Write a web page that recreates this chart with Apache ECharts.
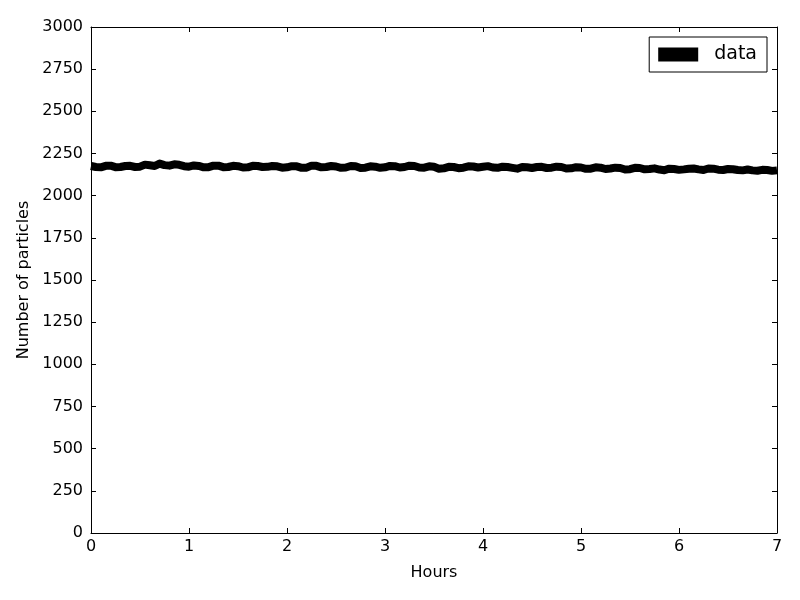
<!DOCTYPE html>
<html>
<head>
<meta charset="utf-8">
<script src="https://cdn.jsdelivr.net/npm/echarts@6/dist/echarts.min.js"></script>
<style>
  html, body { margin: 0; padding: 0; background: #fff; }
  #chart { width: 800px; height: 600px; }
</style>
</head>
<body>
<div id="chart"></div>
<script>
// time in hours
var hours = [
  0.00, 0.05, 0.10, 0.15, 0.20, 0.25, 0.30, 0.35, 0.40, 0.45,
  0.50, 0.55, 0.60, 0.65, 0.70, 0.75, 0.80, 0.85, 0.90, 0.95,
  1.00, 1.05, 1.10, 1.15, 1.20, 1.25, 1.30, 1.35, 1.40, 1.45,
  1.50, 1.55, 1.60, 1.65, 1.70, 1.75, 1.80, 1.85, 1.90, 1.95,
  2.00, 2.05, 2.10, 2.15, 2.20, 2.25, 2.30, 2.35, 2.40, 2.45,
  2.50, 2.55, 2.60, 2.65, 2.70, 2.75, 2.80, 2.85, 2.90, 2.95,
  3.00, 3.05, 3.10, 3.15, 3.20, 3.25, 3.30, 3.35, 3.40, 3.45,
  3.50, 3.55, 3.60, 3.65, 3.70, 3.75, 3.80, 3.85, 3.90, 3.95,
  4.00, 4.05, 4.10, 4.15, 4.20, 4.25, 4.30, 4.35, 4.40, 4.45,
  4.50, 4.55, 4.60, 4.65, 4.70, 4.75, 4.80, 4.85, 4.90, 4.95,
  5.00, 5.05, 5.10, 5.15, 5.20, 5.25, 5.30, 5.35, 5.40, 5.45,
  5.50, 5.55, 5.60, 5.65, 5.70, 5.75, 5.80, 5.85, 5.90, 5.95,
  6.00, 6.05, 6.10, 6.15, 6.20, 6.25, 6.30, 6.35, 6.40, 6.45,
  6.50, 6.55, 6.60, 6.65, 6.70, 6.75, 6.80, 6.85, 6.90, 6.95,
  7.00
];
// number of particles
var particles = [
  2176, 2170, 2168, 2177, 2178, 2169, 2170, 2176, 2177, 2170,
  2172, 2184, 2180, 2176, 2190, 2181, 2178, 2186, 2183, 2175,
  2172, 2179, 2176, 2168, 2169, 2178, 2178, 2169, 2170, 2177,
  2175, 2167, 2168, 2177, 2176, 2170, 2171, 2176, 2174, 2166,
  2168, 2175, 2174, 2165, 2166, 2178, 2177, 2168, 2170, 2176,
  2173, 2165, 2167, 2176, 2174, 2164, 2166, 2174, 2172, 2165,
  2168, 2176, 2175, 2167, 2170, 2178, 2176, 2167, 2166, 2174,
  2171, 2160, 2162, 2171, 2170, 2163, 2166, 2174, 2173, 2167,
  2171, 2175, 2167, 2165, 2172, 2170, 2165, 2160, 2170, 2168,
  2164, 2170, 2171, 2164, 2166, 2172, 2170, 2161, 2162, 2169,
  2167, 2159, 2160, 2168, 2166, 2158, 2161, 2166, 2164, 2155,
  2157, 2165, 2164, 2156, 2158, 2162, 2155, 2151, 2160, 2158,
  2153, 2156, 2160, 2161, 2156, 2152, 2161, 2160, 2154, 2152,
  2158, 2157, 2152, 2150, 2155, 2150, 2148, 2153, 2152, 2147,
  2150
];
var seriesName = 'data';

var font = 'DejaVu Sans';
var myChart = echarts.init(document.getElementById('chart'));

function frameAxis(extra) {
    return Object.assign({
        axisLine: { show: true, onZero: false, lineStyle: { color: '#000', width: 1 } },
        axisTick: { show: true, inside: true, length: 5, lineStyle: { color: '#000' } },
        splitLine: { show: false }
    }, extra);
}

myChart.setOption({
    backgroundColor: '#ffffff',
    animation: false,
    textStyle: { fontFamily: font },
    grid: { left: 91, right: 23, top: 27, bottom: 67 },
    legend: {
        right: 33,
        top: 37,
        orient: 'vertical',
        borderColor: '#000',
        borderWidth: 1,
        borderRadius: 0,
        padding: [8, 10, 8, 9],
        icon: 'rect',
        itemWidth: 40,
        itemHeight: 14,
        selectedMode: false,
        textStyle: { fontSize: 19, lineHeight: 16, color: '#000', fontFamily: font, padding: [0, 0, 0, 11] },
        data: [{ name: seriesName, itemStyle: { color: '#000' } }]
    },
    xAxis: [
        frameAxis({
            type: 'value', min: 0, max: 7, interval: 1, position: 'bottom',
            name: 'Hours', nameLocation: 'middle', nameGap: 32,
            nameTextStyle: { fontSize: 16, color: '#000', fontFamily: font },
            axisLabel: { fontSize: 16, color: '#000', margin: 6, fontFamily: font }
        }),
        frameAxis({
            type: 'value', min: 0, max: 7, interval: 1, position: 'top',
            axisLabel: { show: false }
        })
    ],
    yAxis: [
        frameAxis({
            type: 'value', min: 0, max: 3000, interval: 250, position: 'left',
            name: 'Number of particles', nameLocation: 'middle', nameGap: 52,
            nameTextStyle: { fontSize: 16, color: '#000', fontFamily: font },
            axisLabel: {
                fontSize: 16, color: '#000', margin: 8, fontFamily: font,
                formatter: function (v) { return String(v); }
            }
        }),
        frameAxis({
            type: 'value', min: 0, max: 3000, interval: 250, position: 'right',
            axisLabel: { show: false }
        })
    ],
    series: [{
        name: seriesName,
        type: 'line',
        xAxisIndex: 0,
        yAxisIndex: 0,
        showSymbol: false,
        symbol: 'none',
        lineStyle: { color: '#000', width: 8, join: 'round' },
        itemStyle: { color: '#000' },
        data: hours.map(function (h, i) { return [h, particles[i]]; })
    }]
});
</script>
</body>
</html>
